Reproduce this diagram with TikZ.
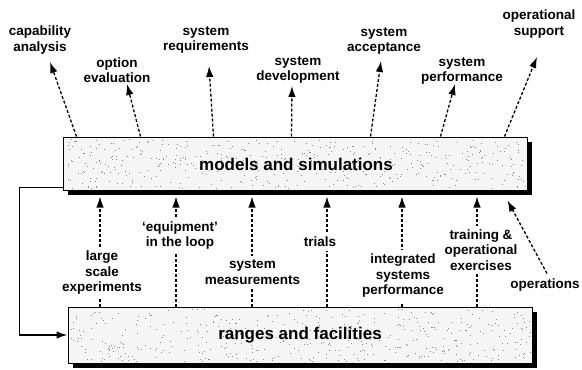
\documentclass[tikz,border=0pt]{standalone}
\usepackage{fontspec}
\setmainfont{Liberation Sans}
\usetikzlibrary{arrows.meta,calc,shadows}
\begin{document}
\begin{tikzpicture}[x=1pt,y=-1pt,
  lab/.style={font=\fontsize{13.5}{15.5}\selectfont\bfseries, align=center, inner sep=1pt},
  wlab/.style={lab, fill=white, inner sep=4pt},
  big/.style={font=\fontsize{17}{20}\selectfont\bfseries, inner sep=1pt},
  box/.style={draw=black, line width=1pt, fill=black!4, inner sep=0pt,
    drop shadow={shadow xshift=5pt, shadow yshift=-5pt, opacity=1, fill=black}},
  darr/.style={dash pattern=on 3pt off 2pt, line width=1.3pt, -{Latex[length=11pt,width=7.5pt]}},
  fb/.style={line width=1.6pt, -{Latex[length=11pt,width=7.5pt]}},
  dot/.style={fill=black!45}
]
\useasboundingbox (0,0) rectangle (582,370);

% boxes
\node[box, minimum width=464pt, minimum height=53pt] (ms) at (295,163.5) {};
\node[box, minimum width=464pt, minimum height=56pt] (rf) at (300,335) {};

% stipple texture
\pgfmathsetseed{42}
\foreach \i in {1,...,450}{
  \pgfmathsetmacro\px{65+460*rnd}
  \pgfmathsetmacro\py{139+49*rnd}
  \fill[dot] (\px,\py) rectangle ++(0.8,0.8);
}
\foreach \i in {1,...,450}{
  \pgfmathsetmacro\px{70+460*rnd}
  \pgfmathsetmacro\py{309+52*rnd}
  \fill[dot] (\px,\py) rectangle ++(0.8,0.8);
}

\node[big] (mst) at (296,164) {models and simulations};
\node[big] (rft) at (300,335) {ranges and facilities};

% feedback connector
\draw[fb] ($(ms.south west)+(0,-3)$) -- ++(-43,0) |- (rf.west);

% upper labels
\node[lab] (ca) at (40,40) {capability\\analysis};
\node[lab] (oe) at (117,70) {option\\evaluation};
\node[lab] (sr) at (206,40) {system\\requirements};
\node[lab] (sd) at (298,70) {system\\development};
\node[lab] (sa) at (384,41) {system\\acceptance};
\node[lab] (sp) at (462,71) {system\\performance};
\node[lab] (os) at (539,24) {operational\\support};

% upper arrow tips
\coordinate (caT) at (50,62);
\coordinate (oeT) at (127,84);
\coordinate (srT) at (209,66);
\coordinate (sdT) at (292,86);
\coordinate (saT) at (381,61);
\coordinate (spT) at (455,84);
\coordinate (osT) at (537,57);

\draw[darr] ($(ms.north west)+(14,0)$) -- (caT);
\draw[darr] ($(ms.north west)+(78,0)$) -- (oeT);
\draw[darr] ($(ms.north west)+(151,0)$) -- (srT);
\draw[darr] ($(ms.north west)+(229,0)$) -- (sdT);
\draw[darr] ($(ms.north west)+(308,0)$) -- (saT);
\draw[darr] ($(ms.north west)+(378,0)$) -- (spT);
\draw[darr] ($(ms.north west)+(442,0)$) -- (osT);

% lower columns
\coordinate (c1) at (100,0);
\coordinate (c2) at (176,0);
\coordinate (c3) at (252,0);
\coordinate (c4) at (327,0);
\coordinate (c5) at (402,0);
\coordinate (c6) at (477,0);
\foreach \c in {c1,c2,c3,c4,c5,c6}{
  \draw[darr, shorten >=6pt] (rf.north -| \c) -- (ms.south -| \c);
}

% lower labels
\node[wlab] (lse) at (102,273) {large\\scale\\experiments};
\node[wlab] (eil) at (180,235.5) {`equipment'\\in the loop};
\node[wlab] (sm) at (252.5,272) {system\\measurements};
\node[wlab] (tr) at (320,242) {trials};
\node[wlab] (isp) at (403,276) {integrated\\systems\\performance};
\node[wlab] (toe) at (481,250) {training \&\\operational\\exercises};
\node[lab] (op) at (545,285) {operations};

\draw[darr] ($(op.north)+(2,-4)$) -- ($(ms.south east)+(-20,10)$);
\end{tikzpicture}
\end{document}
